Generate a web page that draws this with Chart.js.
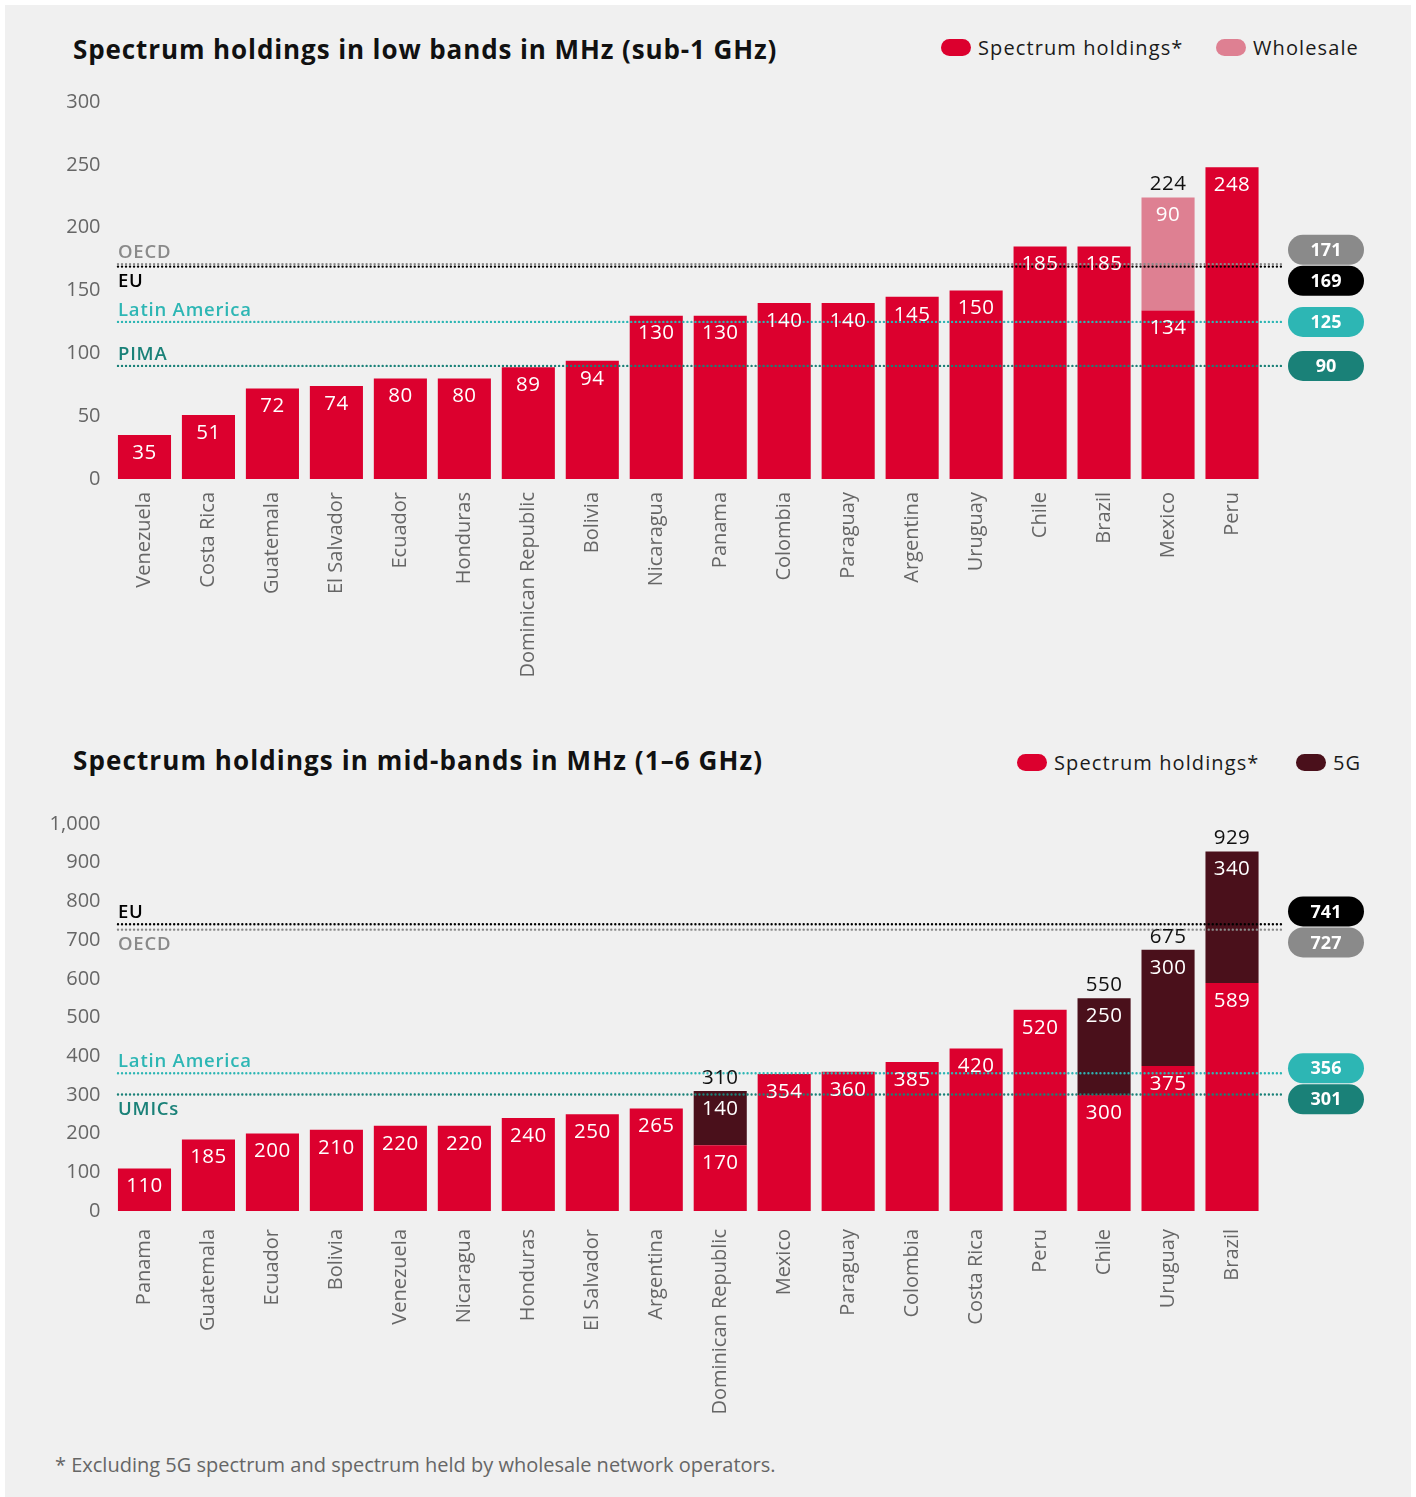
<!DOCTYPE html>
<html>
<head>
<meta charset="utf-8">
<script src="https://cdn.jsdelivr.net/npm/chart.js@4.4.0/dist/chart.umd.min.js"></script>
<style>
  body { margin: 0; background: #fff; font-family: "Open Sans", sans-serif; }
  #page { position: relative; width: 1416px; height: 1497px; }
  #panel { position: absolute; left: 5px; top: 5px; width: 1406px; height: 1492px; background: #f0f0f0; }
  .title { position: absolute; left: 73px; font-weight: 700; font-size: 26px; letter-spacing: 0.9px; color: #111; white-space: nowrap; }
  .leg { position: absolute; font-size: 20px; letter-spacing: 1.1px; color: #1a1a1a; white-space: nowrap; display: flex; align-items: center; }
  .sw { display: inline-block; width: 30px; height: 17px; border-radius: 9px; margin-right: 7px; }
  canvas { position: absolute; left: 0; }
  #note { position: absolute; left: 55px; top: 1451px; font-family: "Liberation Sans Narrow", "Open Sans", sans-serif; font-size: 20px; color: #666; white-space: nowrap; }
</style>
</head>
<body>
<div id="page">
  <div id="panel"></div>
  <div class="title" style="top:31px">Spectrum holdings in low bands in MHz (sub-1 GHz)</div>
  <div class="leg" style="left:941px; top:34px"><span class="sw" style="background:#dc002e"></span>Spectrum holdings*</div>
  <div class="leg" style="left:1216px; top:34px"><span class="sw" style="background:#de8092"></span>Wholesale</div>

  <div class="title" style="top:742px; letter-spacing:1.1px">Spectrum holdings in mid-bands in MHz (1–6 GHz)</div>
  <div class="leg" style="left:1017px; top:749px"><span class="sw" style="background:#dc002e"></span>Spectrum holdings*</div>
  <div class="leg" style="left:1296px; top:749px"><span class="sw" style="background:#4a101b"></span>5G</div>

  <canvas id="low" width="1416" height="700" style="top:0"></canvas>
  <canvas id="mid" width="1416" height="720" style="top:720px"></canvas>
  <div id="note">* Excluding 5G spectrum and spectrum held by wholesale network operators.</div>
</div>
<script>
// low bands (sub-1 GHz)
const lowCountries = ["Venezuela", "Costa Rica", "Guatemala", "El Salvador", "Ecuador", "Honduras",
  "Dominican Republic", "Bolivia", "Nicaragua", "Panama", "Colombia", "Paraguay", "Argentina",
  "Uruguay", "Chile", "Brazil", "Mexico", "Peru"];
const lowHoldings = [35, 51, 72, 74, 80, 80, 89, 94, 130, 130, 140, 140, 145, 150, 185, 185, 134, 248];
const lowWholesale = [null, null, null, null, null, null, null, null, null, null, null, null, null, null, null, null, 90, null];
const lowRefNames = ["OECD", "EU", "Latin America", "PIMA"];
const lowRefValues = [171, 169, 125, 90];

// mid bands (1-6 GHz)
const midCountries = ["Panama", "Guatemala", "Ecuador", "Bolivia", "Venezuela", "Nicaragua", "Honduras",
  "El Salvador", "Argentina", "Dominican Republic", "Mexico", "Paraguay", "Colombia", "Costa Rica",
  "Peru", "Chile", "Uruguay", "Brazil"];
const midHoldings = [110, 185, 200, 210, 220, 220, 240, 250, 265, 170, 354, 360, 385, 420, 520, 300, 375, 589];
const mid5G = [null, null, null, null, null, null, null, null, null, 140, null, null, null, null, null, 250, 300, 340];
const midRefNames = ["EU", "OECD", "Latin America", "UMICs"];
const midRefValues = [741, 727, 356, 301];

const RED = "#dc002e";
const refColors = { "OECD": "#8a8a8a", "EU": "#000000", "Latin America": "#2db6b4", "PIMA": "#1a8178", "UMICs": "#1a8178" };
const FONT = "'Open Sans', sans-serif";

// reference lines, their names and the pills on the right
const refLinesPlugin = {
  id: "refLines",
  afterDatasetsDraw(chart, args, opts) {
    const ctx = chart.ctx;
    const area = chart.chartArea;
    const y = chart.scales.y;
    const x0 = area.left + 5.5, x1 = area.right + 19;
    ctx.save();
    opts.names.forEach((name, i) => {
      const py = y.getPixelForValue(opts.values[i]);
      ctx.strokeStyle = refColors[name];
      ctx.lineWidth = 2.4;
      ctx.lineCap = "round";
      ctx.setLineDash([0.01, 4]);
      ctx.beginPath();
      ctx.moveTo(x0, py);
      ctx.lineTo(x1, py);
      ctx.stroke();
      ctx.setLineDash([]);
      ctx.fillStyle = refColors[name];
      ctx.font = "600 18.5px " + FONT;
      ctx.letterSpacing = "0.8px";
      ctx.textAlign = "left";
      ctx.textBaseline = "alphabetic";
      ctx.fillText(name, area.left + 5.5, opts.sides[i] == "above" ? py - 6 : py + 20);
    });
    ctx.letterSpacing = "0px";
    // pills, pushed apart when too close
    let pills = opts.values.map((v, i) => ({ v: v, name: opts.names[i], y: y.getPixelForValue(v) }));
    pills.sort((a, b) => a.y - b.y);
    for (let k = 1; k < pills.length; k++) {
      const d = pills[k].y - pills[k - 1].y;
      if (d < 31) {
        const mid = (pills[k].y + pills[k - 1].y) / 2;
        pills[k - 1].y = mid - 15.5;
        pills[k].y = mid + 15.5;
      }
    }
    const cx = area.right + 62, w = 76, h = 30;
    pills.forEach((p) => {
      ctx.fillStyle = refColors[p.name];
      ctx.beginPath();
      ctx.roundRect(cx - w / 2, p.y - h / 2, w, h, h / 2);
      ctx.fill();
      ctx.fillStyle = "#fff";
      ctx.font = "700 18px " + FONT;
      ctx.textAlign = "center";
      ctx.textBaseline = "middle";
      ctx.fillText(String(p.v), cx, p.y + 1);
    });
    ctx.restore();
  }
};

// numbers inside bars, totals above stacked bars
const barLabelsPlugin = {
  id: "barLabels",
  afterDraw(chart) {
    const ctx = chart.ctx;
    const ds = chart.data.datasets;
    ctx.save();
    ctx.font = "20.5px " + FONT;
    ctx.letterSpacing = "0.5px";
    ctx.textAlign = "center";
    ctx.textBaseline = "middle";
    ds.forEach((d, di) => {
      const meta = chart.getDatasetMeta(di);
      meta.data.forEach((bar, i) => {
        const v = d.data[i];
        if (v == null) return;
        ctx.fillStyle = "#fff";
        ctx.fillText(String(v), bar.x, bar.y + 18);
        if (di == 1) {
          const total = ds[0].data[i] + v;
          ctx.fillStyle = "#111";
          ctx.fillText(String(total), bar.x, bar.y - 13);
        }
      });
    });
    ctx.restore();
  }
};

function makeChart(id, labels, holdings, extra, extraLabel, extraColor, yMax, yStep, refNames, refValues, refSides, padTop, xHeight, xPad) {
  return new Chart(document.getElementById(id), {
    type: "bar",
    data: {
      labels: labels,
      datasets: [
        { label: "Spectrum holdings*", data: holdings, backgroundColor: RED, barPercentage: 0.83, categoryPercentage: 1 },
        { label: extraLabel, data: extra, backgroundColor: extraColor, barPercentage: 0.83, categoryPercentage: 1 }
      ]
    },
    options: {
      responsive: false,
      animation: false,
      layout: { padding: { top: padTop, left: 0, right: 152, bottom: 0 } },
      plugins: {
        legend: { display: false },
        tooltip: { enabled: false },
        refLines: { names: refNames, values: refValues, sides: refSides }
      },
      scales: {
        x: {
          stacked: true,
          grid: { display: false },
          border: { display: false },
          ticks: { color: "#666", font: { family: FONT, size: 20 }, minRotation: 90, maxRotation: 90, padding: xPad, autoSkip: false },
          afterFit: (s) => { s.height = xHeight; }
        },
        y: {
          stacked: true,
          min: 0,
          max: yMax,
          grid: { display: false },
          border: { display: false },
          ticks: { stepSize: yStep, color: "#666", font: { family: FONT, size: 20 }, padding: 4 },
          afterFit: (s) => { s.width = 112.5; }
        }
      }
    },
    plugins: [refLinesPlugin, barLabelsPlugin]
  });
}

makeChart("low", lowCountries, lowHoldings, lowWholesale, "Wholesale", "#de8092", 300, 50,
  lowRefNames, lowRefValues, ["above", "below", "above", "above"], 102, 221, 5);
makeChart("mid", midCountries, midHoldings, mid5G, "5G", "#4a101b", 1000, 100,
  midRefNames, midRefValues, ["above", "below", "above", "below"], 104, 229, 10);
</script>
</body>
</html>
